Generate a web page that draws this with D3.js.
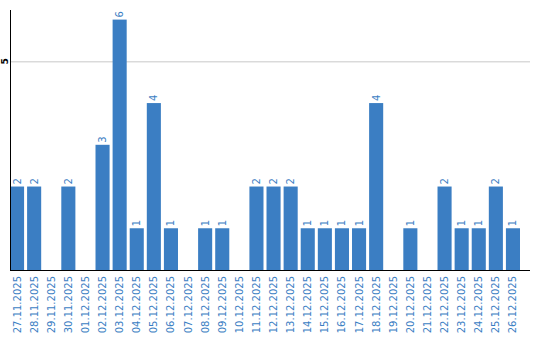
<!DOCTYPE html>
<html>
<head>
<meta charset="utf-8">
<script src="https://cdn.jsdelivr.net/npm/d3@7"></script>
<style>
  body { margin: 0; background: #fff; }
  text { font-family: "DejaVu Sans", Verdana, sans-serif; }
</style>
</head>
<body>
<div id="chart"></div>
<script>
const dates = ["27.11.2025","28.11.2025","29.11.2025","30.11.2025","01.12.2025","02.12.2025",
  "03.12.2025","04.12.2025","05.12.2025","06.12.2025","07.12.2025","08.12.2025","09.12.2025",
  "10.12.2025","11.12.2025","12.12.2025","13.12.2025","14.12.2025","15.12.2025","16.12.2025",
  "17.12.2025","18.12.2025","19.12.2025","20.12.2025","21.12.2025","22.12.2025","23.12.2025",
  "24.12.2025","25.12.2025","26.12.2025"];
const counts = [2,2,0,2,0,3,6,1,4,1,0,1,1,0,2,2,2,1,1,1,1,4,0,1,0,2,1,1,2,1];
const yTicks = [5];

const width = 540, height = 340;
const margin = {left: 10, top: 10, right: 10, bottom: 70};
const blue = "#3b7ec3";

const svg = d3.select("#chart").append("svg")
  .attr("width", width)
  .attr("height", height);

const x = d3.scaleBand()
  .domain(dates)
  .range([margin.left, margin.left + 17 * dates.length])
  .paddingInner(3 / 17)
  .paddingOuter(0)
  .align(0);

const y = d3.scaleLinear()
  .domain([0, 6.23])
  .range([height - margin.bottom, margin.top]);

// gridlines
svg.append("g")
  .selectAll("line")
  .data(yTicks)
  .join("line")
  .attr("x1", margin.left)
  .attr("x2", width - margin.right)
  .attr("y1", d => y(d) + 0.5)
  .attr("y2", d => y(d) + 0.5)
  .attr("stroke", "#c8c8c8")
  .attr("stroke-width", 1);

// y tick labels
svg.append("g")
  .selectAll("text")
  .data(yTicks)
  .join("text")
  .attr("transform", d => `translate(7.5,${y(d)}) rotate(-90)`)
  .attr("text-anchor", "middle")
  .attr("font-size", 9)
  .attr("font-weight", "bold")
  .attr("fill", "#000")
  .text(d => d);

// bars
svg.append("g")
  .selectAll("rect")
  .data(dates.map((d, i) => ({date: d, v: counts[i]})).filter(d => d.v > 0))
  .join("rect")
  .attr("x", d => x(d.date))
  .attr("y", d => y(d.v))
  .attr("width", x.bandwidth())
  .attr("height", d => y(0) - y(d.v))
  .attr("fill", blue);

// value labels
svg.append("g")
  .selectAll("text")
  .data(dates.map((d, i) => ({date: d, v: counts[i]})).filter(d => d.v > 0))
  .join("text")
  .attr("transform", d => `translate(${x(d.date) + x.bandwidth() / 2 + 3.5},${y(d.v) - 2}) rotate(-90)`)
  .attr("text-anchor", "start")
  .attr("font-size", 10)
  .attr("fill", blue)
  .text(d => d.v);

// axes lines
svg.append("line")
  .attr("x1", margin.left + 0.5).attr("x2", margin.left + 0.5)
  .attr("y1", margin.top).attr("y2", y(0))
  .attr("stroke", "#000");

svg.append("line")
  .attr("x1", margin.left).attr("x2", width - margin.right)
  .attr("y1", y(0) + 0.5).attr("y2", y(0) + 0.5)
  .attr("stroke", "#000");

// category labels
svg.append("g")
  .selectAll("text")
  .data(dates)
  .join("text")
  .attr("transform", d => `translate(${x(d) + x.bandwidth() / 2 + 3.5},${y(0) + 6}) rotate(-90)`)
  .attr("text-anchor", "end")
  .attr("font-size", 10)
  .attr("fill", blue)
  .text(d => d);
</script>
</body>
</html>
